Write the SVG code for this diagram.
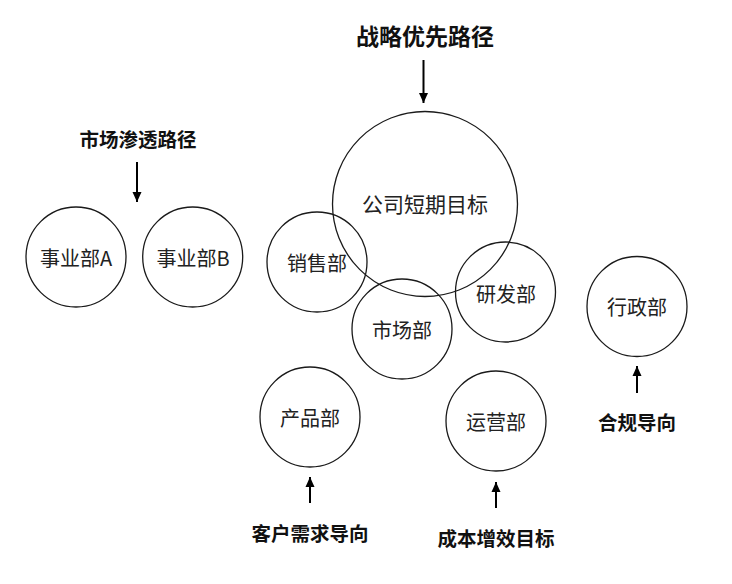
<svg xmlns="http://www.w3.org/2000/svg" width="732" height="584" viewBox="0 0 732 584">
<style>
.c{fill:none;stroke:#1a1a1a;stroke-width:1.3}
.n{font-family:"Noto Sans CJK SC","Liberation Sans",sans-serif;font-size:20px;fill:#222;text-anchor:middle;dominant-baseline:central}
.t{font-family:"Noto Sans CJK SC","Liberation Sans",sans-serif;font-size:19.5px;font-weight:bold;fill:#111;text-anchor:middle;dominant-baseline:central}
.a{stroke:#000;stroke-width:2;fill:none;marker-end:url(#ah)}
</style>
<defs>
<marker id="ah" markerUnits="userSpaceOnUse" markerWidth="11" markerHeight="11" refX="10" refY="5" orient="auto" viewBox="0 0 11 10">
<path d="M0,0.5 L10,5 L0,9.5 Z" fill="#000"/>
</marker>
</defs>
<rect width="732" height="584" fill="#fff"/>
<g id="title-strategy"><text class="t" x="425" y="35" style="font-size:23px">战略优先路径</text></g>
<g id="title-market"><text class="t" x="138" y="138">市场渗透路径</text></g>
<g id="title-customer"><text class="t" x="310" y="532">客户需求导向</text></g>
<g id="title-cost"><text class="t" x="496" y="537">成本增效目标</text></g>
<g id="title-compliance"><text class="t" x="637" y="421">合规导向</text></g>
<g id="node-goal"><circle class="c" cx="425" cy="204" r="92.5"/><text class="n" x="425" y="203" style="font-size:21px">公司短期目标</text></g>
<g id="node-sales"><circle class="c" cx="317" cy="262" r="50"/><text class="n" x="317" y="262">销售部</text></g>
<g id="node-market"><circle class="c" cx="402" cy="329" r="50"/><text class="n" x="402" y="329">市场部</text></g>
<g id="node-rd"><circle class="c" cx="505.5" cy="292" r="50"/><text class="n" x="506" y="293">研发部</text></g>
<g id="node-buA"><circle class="c" cx="76" cy="257" r="50"/><text class="n" x="76" y="257">事业部A</text></g>
<g id="node-buB"><circle class="c" cx="192.7" cy="257" r="50"/><text class="n" x="193" y="257">事业部B</text></g>
<g id="node-product"><circle class="c" cx="310" cy="417" r="50"/><text class="n" x="310" y="417">产品部</text></g>
<g id="node-ops"><circle class="c" cx="496" cy="421" r="50"/><text class="n" x="496" y="421">运营部</text></g>
<g id="node-admin"><circle class="c" cx="637" cy="306.5" r="50"/><text class="n" x="637" y="306">行政部</text></g>
<g id="connectors">
<line class="a" x1="423.5" y1="60" x2="423.5" y2="103"/>
<line class="a" x1="137" y1="162" x2="137" y2="202"/>
<line class="a" x1="310" y1="503" x2="310" y2="477"/>
<line class="a" x1="496" y1="508" x2="496" y2="482"/>
<line class="a" x1="637" y1="393" x2="637" y2="366"/>
</g>
</svg>
